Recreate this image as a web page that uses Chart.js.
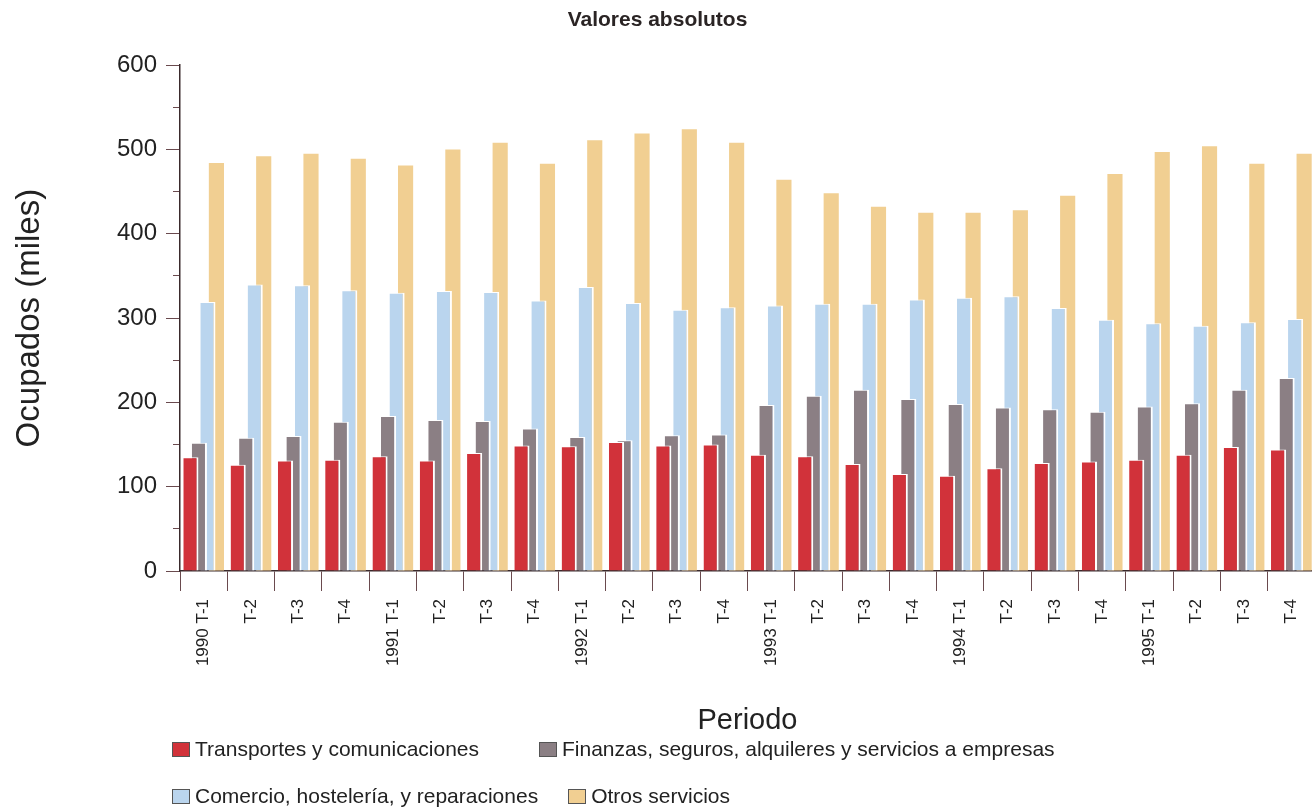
<!DOCTYPE html>
<html>
<head>
<meta charset="utf-8">
<script src="https://cdn.jsdelivr.net/npm/chart.js@4/dist/chart.umd.min.js"></script>
<style>
  html, body { margin: 0; padding: 0; background: #fff; overflow: hidden; width: 1312px; height: 809px; }
  #wrap { position: absolute; left: 0; top: 0; width: 1330px; height: 809px; }
  #legend { position: absolute; left: 0; top: 0; font-family: "Liberation Sans", Arial, sans-serif; font-size: 21px; color: #222; }
  .row { position: absolute; left: 172px; display: flex; align-items: center; white-space: nowrap; }
  .item { display: flex; align-items: center; }
  .box { width: 18px; height: 15px; box-sizing: border-box; border: 1px solid #555; margin-right: 5px; }
</style>
</head>
<body>
<div id="wrap"><canvas id="c" width="1330" height="809"></canvas></div>
<div id="legend"></div>
<script>
const categories = ['1990 T-1','T-2','T-3','T-4','1991 T-1','T-2','T-3','T-4','1992 T-1','T-2','T-3','T-4',
                    '1993 T-1','T-2','T-3','T-4','1994 T-1','T-2','T-3','T-4','1995 T-1','T-2','T-3','T-4'];
const seriesNames = ['Transportes y comunicaciones','Finanzas, seguros, alquileres y servicios a empresas',
                     'Comercio, hostelería, y reparaciones','Otros servicios'];
const transportes = [135,126,131,132,136,131,140,149,148,153,149,150,138,136,127,115,113,122,128,130,132,138,147,144];
const finanzas    = [152,158,160,177,184,179,178,169,159,155,161,162,197,208,215,204,198,194,192,189,195,199,215,229];
const comercio    = [319,340,339,333,330,332,331,321,337,318,310,313,315,317,317,322,324,326,312,298,294,291,295,299];
const otros       = [484,492,495,489,481,500,508,483,511,519,524,508,464,448,432,425,425,428,445,471,497,504,483,495];
const yTicks = [0,100,200,300,400,500,600];

const colors = ['#d1323a','#8b7f84','#bad5ee','#f1cf92'];
const values = [transportes, finanzas, comercio, otros];

const datasets = values.map((v, i) => ({
  label: seriesNames[i],
  data: v,
  backgroundColor: colors[i],
  borderColor: '#ffffff',
  borderWidth: i < 3 ? {top: 1, right: 2, left: 0, bottom: 0} : 0,
  borderSkipped: 'bottom',
  categoryPercentage: 0.72,
  barPercentage: 1.78
}));

const FONT = '"Liberation Sans", Arial, Helvetica, sans-serif';

new Chart(document.getElementById('c'), {
  type: 'bar',
  data: { labels: categories, datasets },
  options: {
    responsive: false,
    animation: false,
    layout: { padding: { left: 0, right: 15, top: 0, bottom: 64 } },
    plugins: {
      legend: { display: false },
      tooltip: { enabled: false },
      title: {
        display: true,
        text: 'Valores absolutos',
        color: '#2a2424',
        font: { family: FONT, size: 21, weight: 'bold', lineHeight: 1.2 },
        padding: { top: 8, bottom: 32 }
      }
    },
    scales: {
      x: {
        offset: true,
        border: { display: true, color: '#3a2a2c', width: 1.5 },
        grid: { display: true, drawOnChartArea: false, tickLength: 20, color: '#6a4a4e', lineWidth: 1 },
        ticks: {
          autoSkip: false, minRotation: 90, maxRotation: 90, padding: 8,
          color: '#222', font: { family: FONT, size: 17 }
        },
        title: {
          display: true, text: 'Periodo', color: '#222',
          font: { family: FONT, size: 29, lineHeight: 1.2 },
          padding: { top: 0, bottom: 7 }
        },
        afterFit(scale) { scale.height = 174; }
      },
      y: {
        min: 0, max: 600,
        border: { display: true, color: '#3a2a2c', width: 1.5 },
        grid: {
          display: true, drawOnChartArea: false, tickLength: 14, color: '#6a4a4e',
          tickBorderDash: (ctx) => (ctx.tick && ctx.tick.value % 100 !== 0) ? [0, 7, 7] : []
        },
        ticks: {
          stepSize: 25, padding: 9, color: '#222',
          font: { family: FONT, size: 24 },
          callback: (v) => yTicks.includes(v) ? String(v) : ''
        },
        title: {
          display: true, text: 'Ocupados (miles)', color: '#222',
          font: { family: FONT, size: 33, lineHeight: 1.2 },
          padding: { top: 10, bottom: 0 }
        },
        afterFit(scale) { scale.width = 180; }
      }
    }
  }
});

// HTML legend built from the series names/colours
const legend = document.getElementById('legend');
const rows = [[0, 1], [2, 3]];
const rowTops = [737, 784];
const gaps = [60, 30];
rows.forEach((r, ri) => {
  const row = document.createElement('div');
  row.className = 'row';
  row.style.top = rowTops[ri] + 'px';
  r.forEach((idx, k) => {
    const it = document.createElement('div');
    it.className = 'item';
    if (k > 0) it.style.marginLeft = gaps[ri] + 'px';
    const b = document.createElement('span');
    b.className = 'box';
    b.style.background = colors[idx];
    const t = document.createElement('span');
    t.textContent = seriesNames[idx];
    it.appendChild(b); it.appendChild(t);
    row.appendChild(it);
  });
  legend.appendChild(row);
});
</script>
</body>
</html>
